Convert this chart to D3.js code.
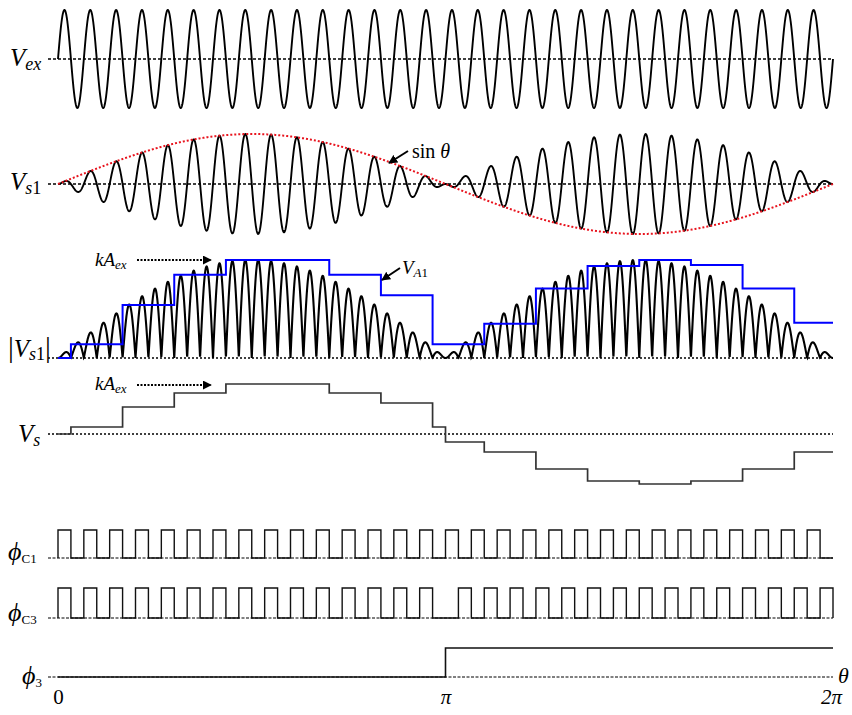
<!DOCTYPE html>
<html>
<head>
<meta charset="utf-8">
<script src="https://cdn.jsdelivr.net/npm/d3@7"></script>
<style>
  body { margin: 0; background: #fff; }
  text { font-family: "Liberation Serif", "Times New Roman", serif; }
</style>
</head>
<body>
<div class="canva-wave"></div>
<script>
// carrier cycles of V_ex over one turn 0..2pi
const carrierCycles = 30;
const samples = 4000;

// V_A1 (held peak of |Vs1|) : step edges in carrier cycles and levels
const va1Edges  = [0, 0.5, 2.5, 4.5, 6.5, 8.5, 10.5, 12.5, 14.5, 16.5, 18.5, 20.5, 22.5, 24.5, 26.5, 28.5, 30];
const va1Levels = [0, 0.14, 0.54, 0.85, 1.0, 1.0, 0.85, 0.64, 0.14, 0.35, 0.71, 0.94, 1.0, 0.95, 0.71, 0.36];

// V_s (signed output) : step edges and levels
const vsEdges  = [0, 0.5, 2.5, 4.5, 6.5, 10.5, 12.5, 14.5, 15, 16.5, 18.5, 20.5, 22.5, 24.5, 26.5, 28.5, 30];
const vsLevels = [0, 0.14, 0.54, 0.82, 1.0, 0.82, 0.62, 0.14, -0.16, -0.36, -0.70, -0.94, -1.0, -0.94, -0.70, -0.36];

// clock pulses: start of each high phase (carrier cycles), each lasts half a cycle
const c1Starts = [0,1,2,3,4,5,6,7,8,9,10,11,12,13,14,15,16,17,18,19,20,21,22,23,24,25,26,27,28,29];
const c3Starts = [0,1,2,3,4,5,6,7,8,9,10,11,12,13,14,15.5,16.5,17.5,18.5,19.5,20.5,21.5,22.5,23.5,24.5,25.5,26.5,27.5,28.5,29.5];
const pulseWidth = 0.5;

// phi_3 : edges in carrier cycles and levels
const phi3Edges  = [0, 15, 30];
const phi3Levels = [0, 1];

const tickValues = [0, Math.PI, 2 * Math.PI];
const tickLabels = ["0", "\u03c0", "2\u03c0"];

const width = 852, height = 715;
const svg = d3.select(".canva-wave").append("svg")
    .attr("width", width)
    .attr("height", height);

const x = d3.scaleLinear().domain([0, 2 * Math.PI]).range([58, 833]);
const cyc = d3.scaleLinear().domain([0, carrierCycles]).range([0, 2 * Math.PI]);

// one y scale per trace
const yVex  = d3.scaleLinear().domain([-1, 1]).range([108, 10]);
const yVs1  = d3.scaleLinear().domain([-1, 1]).range([234, 134]);
const yAbs  = d3.scaleLinear().domain([0, 1]).range([358, 260]);
const yVs   = d3.scaleLinear().domain([-1, 1]).range([484, 384]);
const yC1   = d3.scaleLinear().domain([0, 1]).range([558, 530]);
const yC3   = d3.scaleLinear().domain([0, 1]).range([618, 588]);
const yPhi3 = d3.scaleLinear().domain([0, 1]).range([677, 648]);

const thetas = d3.range(samples + 1).map(i => i / samples * 2 * Math.PI);
const carrier = t => Math.sin(carrierCycles * t);

const line = (yScale) => d3.line().x(d => x(d[0])).y(d => yScale(d[1]));

// dotted zero lines
function baseline(yScale, y0, w, dash) {
  svg.append("line")
    .attr("x1", 48).attr("x2", 833)
    .attr("y1", yScale(y0)).attr("y2", yScale(y0))
    .attr("stroke", "#000").attr("stroke-width", w)
    .attr("stroke-dasharray", dash);
}

function steps(edges, levels) {
  const pts = [];
  levels.forEach((v, i) => {
    pts.push([cyc(edges[i]), v]);
    pts.push([cyc(edges[i + 1]), v]);
  });
  return pts;
}

function pulses(starts) {
  const pts = [[0, 0]];
  starts.forEach(s => {
    pts.push([cyc(s), 0], [cyc(s), 1], [cyc(s + pulseWidth), 1], [cyc(s + pulseWidth), 0]);
  });
  pts.push([2 * Math.PI, 0]);
  return pts;
}

// ---- V_ex
baseline(yVex, 0, 1.6, "3,2");
svg.append("path")
  .datum(thetas.map(t => [t, carrier(t)]))
  .attr("fill", "none").attr("stroke", "#000").attr("stroke-width", 1.9)
  .attr("d", line(yVex));

// ---- V_s1 with sin(theta) envelope
baseline(yVs1, 0, 1.6, "3,2");
svg.append("path")
  .datum(thetas.map(t => [t, Math.sin(t) * carrier(t)]))
  .attr("fill", "none").attr("stroke", "#000").attr("stroke-width", 1.9)
  .attr("d", line(yVs1));
svg.append("path")
  .datum(thetas.map(t => [t, Math.sin(t)]))
  .attr("fill", "none").attr("stroke", "#e8141e").attr("stroke-width", 2)
  .attr("stroke-dasharray", "2,2")
  .attr("d", line(yVs1));

// ---- |V_s1| and V_A1
baseline(yAbs, 0, 1.6, "2,2");
svg.append("path")
  .datum(thetas.map(t => [t, Math.abs(Math.sin(t) * carrier(t))]))
  .attr("fill", "none").attr("stroke", "#000").attr("stroke-width", 2.1)
  .attr("d", line(yAbs));
svg.append("path")
  .datum(steps(va1Edges, va1Levels))
  .attr("fill", "none").attr("stroke", "#0000ff").attr("stroke-width", 2)
  .attr("d", line(yAbs));

// ---- V_s
baseline(yVs, 0, 1.6, "2,2");
svg.append("path")
  .datum(steps(vsEdges, vsLevels))
  .attr("fill", "none").attr("stroke", "#333").attr("stroke-width", 1.7)
  .attr("d", line(yVs));

// ---- clocks
baseline(yC1, 0, 1, "3,1.5");
svg.append("path")
  .datum(pulses(c1Starts))
  .attr("fill", "none").attr("stroke", "#111").attr("stroke-width", 1.4)
  .attr("d", line(yC1));

baseline(yC3, 0, 1, "3,1.5");
svg.append("path")
  .datum(pulses(c3Starts))
  .attr("fill", "none").attr("stroke", "#111").attr("stroke-width", 1.4)
  .attr("d", line(yC3));

baseline(yPhi3, 0, 1, "3,1.5");
svg.append("path")
  .datum(steps(phi3Edges, phi3Levels))
  .attr("fill", "none").attr("stroke", "#111").attr("stroke-width", 1.6)
  .attr("d", line(yPhi3));

// ---- theta axis labels
const axis = d3.axisBottom(x).tickValues(tickValues).tickSize(0)
  .tickFormat((d, i) => tickLabels[i]);
const ax = svg.append("g").attr("transform", "translate(0,688)").call(axis);
ax.select(".domain").remove();
ax.selectAll("text")
  .attr("dy", 0).attr("y", 16)
  .attr("fill", "#000")
  .style("font-family", "Liberation Serif, serif")
  .style("font-size", "21px")
  .attr("font-style", (d, i) => i === 0 ? "normal" : "italic");
ax.selectAll(".tick").filter((d, i) => i === 2).select("text").attr("dx", -2);

svg.append("text").attr("x", 838).attr("y", 683)
  .attr("font-size", 22).attr("font-style", "italic").text("\u03b8");

// ---- trace names
function label(xp, yp, main, sub, size, subSize) {
  const t = svg.append("text").attr("x", xp).attr("y", yp)
    .attr("font-size", size).attr("font-style", "italic");
  t.append("tspan").text(main);
  sub.forEach(s => {
    t.append("tspan").attr("font-size", subSize).attr("dy", s.dy || 0)
      .attr("font-style", s.italic ? "italic" : "normal").text(s.text);
  });
  return t;
}

label(10, 66, "V", [{text: "ex", italic: true, dy: 4}], 25, 18);
label(10, 190, "V", [{text: "s", italic: true, dy: 4}, {text: "1", italic: false}], 25, 18);
label(18, 442, "V", [{text: "s", italic: true, dy: 4}], 25, 18);

// |V_s1|
const absLab = svg.append("text").attr("x", 8).attr("y", 357).attr("font-size", 25);
absLab.append("tspan").attr("font-size", 29).text("|");
absLab.append("tspan").attr("font-style", "italic").text("V");
absLab.append("tspan").attr("font-size", 18).attr("font-style", "italic").attr("dy", 3).text("s");
absLab.append("tspan").attr("font-size", 18).text("1");
absLab.append("tspan").attr("font-size", 29).attr("dy", -3).text("|");

label(8, 560, "\u03d5", [{text: "C1", italic: false, dy: 3}], 26, 13);
label(8, 621, "\u03d5", [{text: "C3", italic: false, dy: 3}], 26, 13);
label(22, 684, "\u03d5", [{text: "3", italic: false, dy: 3}], 26, 13);

// ---- annotations
const defs = svg.append("defs");
defs.append("marker").attr("id", "head")
  .attr("viewBox", "0 0 10 10").attr("refX", 9).attr("refY", 5)
  .attr("markerWidth", 4.5).attr("markerHeight", 4.5)
  .attr("orient", "auto")
  .append("path").attr("d", "M0,0L10,5L0,10z").attr("fill", "#000");

// sin theta
svg.append("line").attr("x1", 408).attr("y1", 151).attr("x2", 389).attr("y2", 163)
  .attr("stroke", "#000").attr("stroke-width", 2).attr("marker-end", "url(#head)");
const sinLab = svg.append("text").attr("x", 412).attr("y", 158).attr("font-size", 20);
sinLab.append("tspan").text("sin ");
sinLab.append("tspan").attr("font-style", "italic").text("\u03b8");

// V_A1
svg.append("line").attr("x1", 400).attr("y1", 268).attr("x2", 382).attr("y2", 280)
  .attr("stroke", "#000").attr("stroke-width", 2).attr("marker-end", "url(#head)");
label(402, 274, "V", [{text: "A", italic: true, dy: 3}, {text: "1", italic: false}], 19, 13);

// kA_ex
[{ty: 266, ly: 260}, {ty: 390, ly: 385}].forEach(k => {
  label(95, k.ty, "kA", [{text: "ex", italic: true, dy: 3}], 19, 13);
  svg.append("line").attr("x1", 137).attr("x2", 211).attr("y1", k.ly).attr("y2", k.ly)
    .attr("stroke", "#000").attr("stroke-width", 2).attr("stroke-dasharray", "2,1.5")
    .attr("marker-end", "url(#head)");
});
</script>
</body>
</html>
